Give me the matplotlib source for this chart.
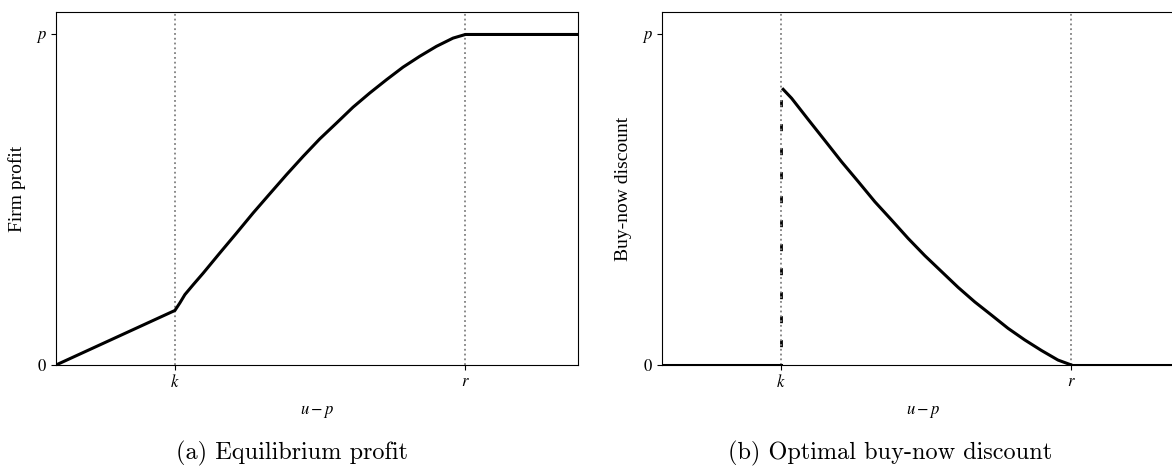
import matplotlib
matplotlib.use("Agg")
import matplotlib.pyplot as plt

plt.rcParams['mathtext.fontset'] = 'stix'
plt.rcParams['font.family'] = ['Liberation Serif', 'DejaVu Serif']

# x in units of k, y in units of p
k_val = 1.0
r_val = 3.443
x_max = 4.39

# equilibrium profit
profit_x = [0.0, 1.0, 1.042, 1.084, 1.154, 1.238, 1.378, 1.518, 1.658, 1.798, 1.939, 2.078,
            2.218, 2.359, 2.498, 2.639, 2.779, 2.918, 3.059, 3.199, 3.339, 3.443, 4.39]
profit_y = [0.0, 0.165, 0.188, 0.213, 0.243, 0.278, 0.339, 0.399, 0.460, 0.518, 0.576, 0.631,
            0.684, 0.732, 0.780, 0.823, 0.863, 0.901, 0.934, 0.964, 0.989, 1.0, 1.0]

# optimal buy-now discount
disc_low_x = [0.0, 1.0]
disc_low_y = [0.0, 0.0]
disc_x = [1.019, 1.090, 1.229, 1.370, 1.510, 1.650, 1.790, 1.930, 2.070, 2.210,
          2.350, 2.490, 2.630, 2.771, 2.910, 3.050, 3.191, 3.330, 3.443]
disc_y = [0.834, 0.807, 0.743, 0.679, 0.615, 0.555, 0.494, 0.439, 0.383, 0.331,
          0.283, 0.235, 0.191, 0.151, 0.111, 0.076, 0.044, 0.015, 0.0]
disc_high_x = [3.443, 4.39]
disc_high_y = [0.0, 0.0]
jump_y = [0.834, 0.0]

fig = plt.figure(figsize=(11.72, 4.66), dpi=100)
ax1 = fig.add_axes([56 / 1172, 101 / 466, 522 / 1172, 353 / 466])
ax2 = fig.add_axes([662 / 1172, 101 / 466, 522 / 1172, 353 / 466])

def style(ax, ylabel):
  ax.set_xlim(0, x_max)
  ax.set_ylim(0, 1.068)
  ax.axvline(k_val, color='#808080', linestyle=':', linewidth=1.3, zorder=3)
  ax.axvline(r_val, color='#808080', linestyle=':', linewidth=1.3, zorder=3)
  ax.set_xticks([k_val, r_val])
  ax.set_xticklabels(['$k$', '$r$'])
  ax.set_yticks([0, 1])
  ax.set_yticklabels(['$0$', '$p$'])
  ax.tick_params(direction='out', length=3.5, width=0.8, labelsize=12, pad=3)
  ax.set_xlabel('$u - p$', fontsize=12)
  ax.xaxis.set_label_coords(0.5, -0.107)
  ax.set_ylabel(ylabel, fontsize=14)
  ax.yaxis.set_label_coords(-0.058, 0.5)
  for s in ax.spines.values():
    s.set_linewidth(0.8)

ax1.plot(profit_x, profit_y, color='black', linewidth=2.2, zorder=4)
style(ax1, 'Firm profit')

ax2.plot([k_val, k_val], jump_y, color='black', linewidth=2.0,
         linestyle=(4.8, (2.52, 6.12)), zorder=2)
ax2.plot(disc_low_x, disc_low_y, color='black', linewidth=2.2, zorder=4)
ax2.plot(disc_x, disc_y, color='black', linewidth=2.2, zorder=4)
ax2.plot(disc_high_x, disc_high_y, color='black', linewidth=2.2, zorder=4)
style(ax2, 'Buy-now discount')

fig.text(292 / 1172, 1 - 459 / 466, '(a) Equilibrium profit', family='cmr10', fontsize=17.5,
         ha='center', va='baseline')
fig.text(890 / 1172, 1 - 459 / 466, '(b) Optimal buy-now discount', family='cmr10', fontsize=17.5,
         ha='center', va='baseline')

fig.savefig('out.png', dpi=100)
